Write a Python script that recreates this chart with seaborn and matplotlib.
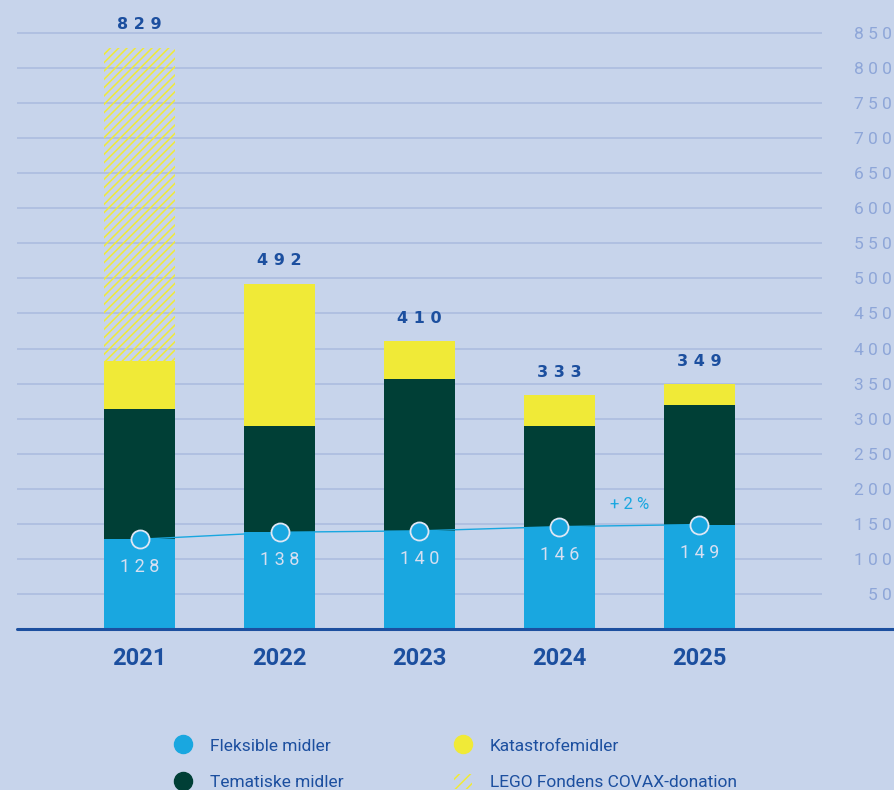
import pandas as pd
import matplotlib
matplotlib.use('Agg')
import matplotlib.pyplot as plt
from matplotlib.lines import Line2D
from matplotlib.patches import Patch
import numpy as np
import seaborn as sns

years = ['2021', '2022', '2023', '2024', '2025']
fleksible = [128, 138, 140, 146, 149]
tematiske = [186, 152, 216, 144, 171]
katastrofe = [68, 202, 54, 43, 29]
covax = [447, 0, 0, 0, 0]
totals = [829, 492, 410, 333, 349]
growth_label = '+ 2 %'

yticks = list(range(50, 900, 50))

bg = '#c7d4eb'
c_flex = '#19a7e0'
c_tem = '#003f36'
c_kat = '#f0ea37'
c_text = '#1c4f9f'
c_grid = '#a9badf'
c_tick = '#8ea6d8'
c_inner = '#d6dff1'

sns.set_style('white')
plt.rcParams['font.family'] = ['Roboto', 'DejaVu Sans']
plt.rcParams['hatch.linewidth'] = 1.1

# cumulative levels for the stacked bars
df = pd.DataFrame({'year': years})
df['flex'] = np.array(fleksible)
df['tem'] = df['flex'] + np.array(tematiske)
df['kat'] = df['tem'] + np.array(katastrofe)
df['covax'] = df['kat'] + np.array(covax)

fig = plt.figure(figsize=(8.95, 7.90), dpi=100, facecolor=bg)
ax = fig.add_axes([17 / 895, 1 - 629 / 790, 805 / 895, 629 / 790])
ax.set_facecolor(bg)

bw = 0.507
sns.barplot(data=df, x='year', y='covax', color=c_kat, width=bw, saturation=1,
            errorbar=None, linewidth=0, ax=ax)
for bar in ax.patches:
    bar.set_facecolor('none')
    bar.set_edgecolor(c_kat)
    bar.set_hatch('////')
    bar.set_linewidth(0)
sns.barplot(data=df, x='year', y='kat', color=c_kat, width=bw, saturation=1,
            errorbar=None, linewidth=0, ax=ax)
sns.barplot(data=df, x='year', y='tem', color=c_tem, width=bw, saturation=1,
            errorbar=None, linewidth=0, ax=ax)
sns.barplot(data=df, x='year', y='flex', color=c_flex, width=bw, saturation=1,
            errorbar=None, linewidth=0, ax=ax)

sns.pointplot(data=df, x='year', y='flex', color=c_flex, markers='o',
              markersize=13, markeredgecolor='#dfe7f5', markeredgewidth=1.3,
              linewidth=1, errorbar=None, ax=ax, zorder=5)

for i, (t, f) in enumerate(zip(totals, fleksible)):
    ax.annotate(' '.join(str(t)), (i, t), xytext=(0, 23), textcoords='offset pixels',
                ha='center', va='center', fontsize=11.5, fontweight='bold',
                family='DejaVu Sans', color=c_text)
    ax.annotate(' '.join(str(f)), (i, f), xytext=(0, -28), textcoords='offset pixels',
                ha='center', va='center', fontsize=13,
                color=c_inner, zorder=6)

ax.text(3.5, 177, growth_label, ha='center', va='center', fontsize=12,
        color=c_flex)

ax.set_xlim(-0.875, 4.875)
ax.set_ylim(0, 897)
ax.set_yticks(yticks)
ax.set_yticklabels([' '.join(str(v)) for v in yticks])
ax.yaxis.tick_right()
ax.yaxis.grid(True, color=c_grid, linewidth=1.1)
ax.set_axisbelow(True)
ax.tick_params(axis='y', length=0, pad=50, labelsize=12.5, labelcolor=c_tick)
for lab in ax.get_yticklabels():
    lab.set_ha('right')
ax.tick_params(axis='x', length=0, pad=13, labelsize=17, labelcolor=c_text)
for lab in ax.get_xticklabels():
    lab.set_fontweight('bold')
ax.set_xlabel('')
ax.set_ylabel('')
sns.despine(ax=ax, left=True, bottom=True, right=True, top=True)
ax.axhline(0, xmin=0, xmax=878 / 805, color=c_text, linewidth=2.2, clip_on=False, zorder=4)

handles = [
    Line2D([], [], marker='o', linestyle='none', markersize=13, color=c_flex),
    Line2D([], [], marker='o', linestyle='none', markersize=13, color=c_tem),
    Line2D([], [], marker='o', linestyle='none', markersize=13, color=c_kat),
    Patch(facecolor='none', edgecolor=c_kat, hatch='///', linewidth=0),
]
labels = ['Fleksible midler', 'Tematiske midler', 'Katastrofemidler',
          'LEGO Fondens COVAX-donation']
fig.legend(handles, labels, ncol=2, frameon=False, loc='upper left',
           bbox_to_anchor=(174 / 895, 1 - 737 / 790), borderpad=0, borderaxespad=0,
           handlelength=1.0, handleheight=1.0, handletextpad=1.05, columnspacing=6.4,
           labelspacing=1.15, fontsize=12.5, labelcolor=c_text)

fig.savefig('out.png', dpi=100, facecolor=bg)
